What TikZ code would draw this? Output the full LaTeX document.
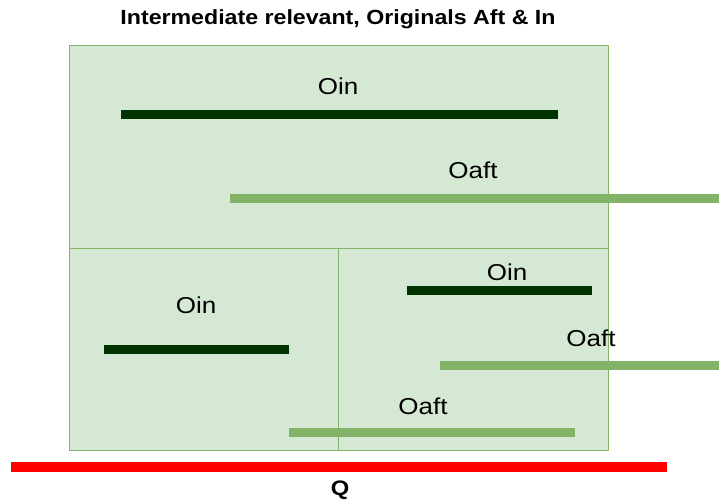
\documentclass[tikz,border=0pt]{standalone}
\usepackage{fontspec}
\setmainfont{Liberation Sans}
\newfontfamily\widesans[FakeStretch=1.13]{Liberation Sans}
\definecolor{boxfill}{HTML}{D5E8D4}
\definecolor{boxline}{HTML}{82B366}
\definecolor{darkbar}{HTML}{003300}
\definecolor{lightbar}{HTML}{82B366}
\begin{document}
\begin{tikzpicture}[x=1pt,y=-1pt,
  panel/.style={fill=boxfill,draw=boxline,line width=1pt},
  inbar/.style={draw=darkbar,line width=9pt},
  aftbar/.style={draw=lightbar,line width=9pt},
  qbar/.style={draw=red,line width=10pt},
  lbl/.style={font=\widesans\fontsize{23}{25}\selectfont,inner sep=0pt,anchor=center},
  ttl/.style={font=\widesans\bfseries\fontsize{20.5}{22}\selectfont,inner sep=0pt,anchor=center}]
\useasboundingbox (0,0) rectangle (719,503);
% panels
\draw[panel] (69,46) rectangle (608,248);
\draw[panel] (69,248) rectangle (338,450);
\draw[panel] (338,248) rectangle (608,450);
% title
\node[ttl] (title) at (338,19) {Intermediate relevant, Originals Aft \& In};
% top panel
\draw[inbar] (121,114) -- (558,114);
\node[lbl] (oin1) at (338,86) {Oin};
\draw[aftbar] (230,198) -- (719,198);
\node[lbl] (oaft1) at (473,170) {Oaft};
% bottom left
\draw[inbar] (104,349) -- (289,349);
\node[lbl] (oin2) at (196,305) {Oin};
% bottom right
\draw[inbar] (407,290) -- (592,290);
\node[lbl] (oin3) at (507,272) {Oin};
\draw[aftbar] (440,365) -- (719,365);
\node[lbl] (oaft2) at (591,338) {Oaft};
\draw[aftbar] (289,432) -- (575,432);
\node[lbl] (oaft3) at (423,406) {Oaft};
% Q
\draw[qbar] (11,467) -- (667,467);
\node[ttl,font=\widesans\bfseries\fontsize{21}{23}\selectfont] (q) at (340,490) {Q};
\end{tikzpicture}
\end{document}
